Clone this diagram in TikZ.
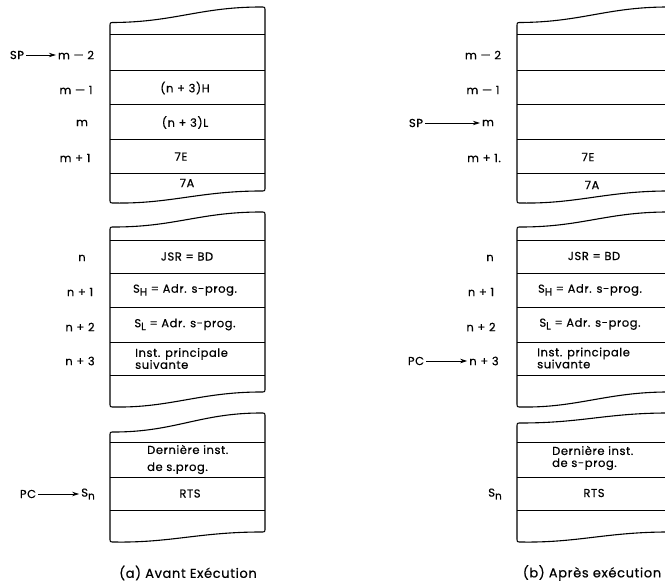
\documentclass[tikz,border=0pt]{standalone}
\usepackage{fontspec}
\setmainfont[LetterSpace=5,FakeBold=0.5]{Poppins}
\usetikzlibrary{arrows.meta}
\newcommand{\lowsub}[1]{\raisebox{-0.45ex}{\fontsize{10.5}{10.5}\selectfont #1}}

\begin{document}
\begin{tikzpicture}[x=1pt,y=-1pt,>={Stealth[length=7pt,width=4.5pt]},
  frame/.style={line width=1.1pt,line join=round},
  sep/.style={line width=1pt},
  cell/.style={font=\fontsize{11.5}{12}\selectfont,inner sep=1pt},
  lab/.style={font=\fontsize{11.5}{12}\selectfont,inner sep=1pt},
  ptr/.style={->,line width=0.8pt,shorten >=1pt,shorten <=1pt},
  caption/.style={font=\fontsize{13}{16}\selectfont,inner sep=1pt}]
  \useasboundingbox (0,0) rectangle (665,586);
  \clip (0,0) rectangle (665,586);

  % memory blocks, before (left) and after (right)
  \foreach \c/\t in {0/432,407/423}{
    \draw[frame] (114+\c,22.5) .. controls (175+\c,22) and (200+\c,7) .. (261+\c,7) .. controls (265+\c,7) .. (265+\c,11)
      -- (265+\c,187) .. controls (265+\c,191) .. (261+\c,191) .. controls (200+\c,191) and (170+\c,204) .. (114+\c,203)
      .. controls (110+\c,203) .. (110+\c,199) -- (110+\c,26.5) .. controls (110+\c,22.5) .. (114+\c,22.5);
    \draw[frame] (114+\c,227) .. controls (175+\c,227) and (200+\c,212) .. (261+\c,212) .. controls (265+\c,212) .. (265+\c,216)
      -- (265+\c,388) .. controls (265+\c,392) .. (261+\c,392) .. controls (200+\c,392) and (170+\c,408) .. (114+\c,407)
      .. controls (110+\c,407) .. (110+\c,403) -- (110+\c,231) .. controls (110+\c,227) .. (114+\c,227);
    \draw[frame] (114+\c,\t) .. controls (175+\c,\t) and (200+\c,413) .. (261+\c,413) .. controls (265+\c,413) .. (265+\c,417)
      -- (265+\c,528) .. controls (265+\c,532) .. (261+\c,532) .. controls (200+\c,532) and (170+\c,543) .. (114+\c,542)
      .. controls (110+\c,542) .. (110+\c,538) -- (110+\c,\t+4) .. controls (110+\c,\t) .. (114+\c,\t);
    \foreach \y in {35,71,105,140,173,240,273,307,342,375,442,477,510}
      \draw[sep] (110+\c,\y) -- (265+\c,\y);
  }

  % (a) avant execution
  \node[cell] (lh) at (185,88) {(n + 3)H};
  \node[cell] (ll) at (185,122.5) {(n + 3)L};
  \node[cell] (l7e) at (181,156.5) {7E};
  \node[cell] (l7a) at (187,183) {7A};
  \node[cell] (ljsr) at (187,256.5) {JSR = BD};
  \node[cell] (lsh) at (185,290) {S\lowsub{H} = Adr. s-prog.};
  \node[cell] (lsl) at (185,324.5) {S\lowsub{L} = Adr. s-prog.};
  \node[cell,anchor=west,align=left] (linst) at (134,358.5) {Inst. principale\\suivante};
  \node[cell,anchor=west,align=left,font=\fontsize{11.5}{17}\selectfont] (llast) at (146,459.5) {Dernière inst.\\de s.prog.};
  \node[cell] (lrts) at (190,493.5) {RTS};

  \node[lab] (lmm2) at (76,55) {m — 2};
  \node[lab] (lmm1) at (76,90) {m — 1};
  \node[lab] (lm) at (82,123) {m};
  \node[lab] (lmp1) at (75,158) {m + 1};
  \node[lab] (ln) at (82,258) {n};
  \node[lab] (lnp1) at (80,292) {n + 1};
  \node[lab] (lnp2) at (80,327) {n + 2};
  \node[lab] (lnp3) at (80,361) {n + 3};
  \node[lab] (lsn) at (88,494) {S\lowsub{n}};
  \node[lab] (lsp) at (17,55) {SP};
  \node[lab] (lpc) at (28,494) {PC};
  \draw[ptr] (lsp) -- (lmm2);
  \draw[ptr] (lpc) -- (lsn);
  \node[caption] (capa) at (188,573) {(a) Avant Exécution};

  % (b) apres execution
  \node[cell] (r7e) at (588,157) {7E};
  \node[cell] (r7a) at (592,185) {7A};
  \node[cell] (rjsr) at (594,256) {JSR = BD};
  \node[cell] (rsh) at (590,290) {S\lowsub{H} = Adr. s-prog.};
  \node[cell] (rsl) at (590,324) {S\lowsub{L} = Adr. s-prog.};
  \node[cell,anchor=west,align=left] (rinst) at (536,358) {Inst. principale\\suivante};
  \node[cell,anchor=west,align=left] (rlast) at (551,458) {Dernière inst.\\de s-prog.};
  \node[cell] (rrts) at (594,493) {RTS};

  \node[lab] (rmm2) at (483,55) {m — 2};
  \node[lab] (rmm1) at (483,90) {m — 1};
  \node[lab] (rm) at (488,123) {m};
  \node[lab] (rmp1) at (484,158) {m + 1.};
  \node[lab] (rn) at (490,258) {n};
  \node[lab] (rnp1) at (481,292) {n + 1};
  \node[lab] (rnp2) at (481,327) {n + 2};
  \node[lab] (rnp3) at (484,361) {n + 3};
  \node[lab] (rsn) at (495,494) {S\lowsub{n}};
  \node[lab] (rsp) at (416,123) {SP};
  \node[lab] (rpc) at (416,361) {PC};
  \draw[ptr] (rsp) -- (rm);
  \draw[ptr] (rpc) -- (rnp3);
  \node[caption] (capb) at (592,573) {(b) Après exécution};
\end{tikzpicture}
\end{document}
